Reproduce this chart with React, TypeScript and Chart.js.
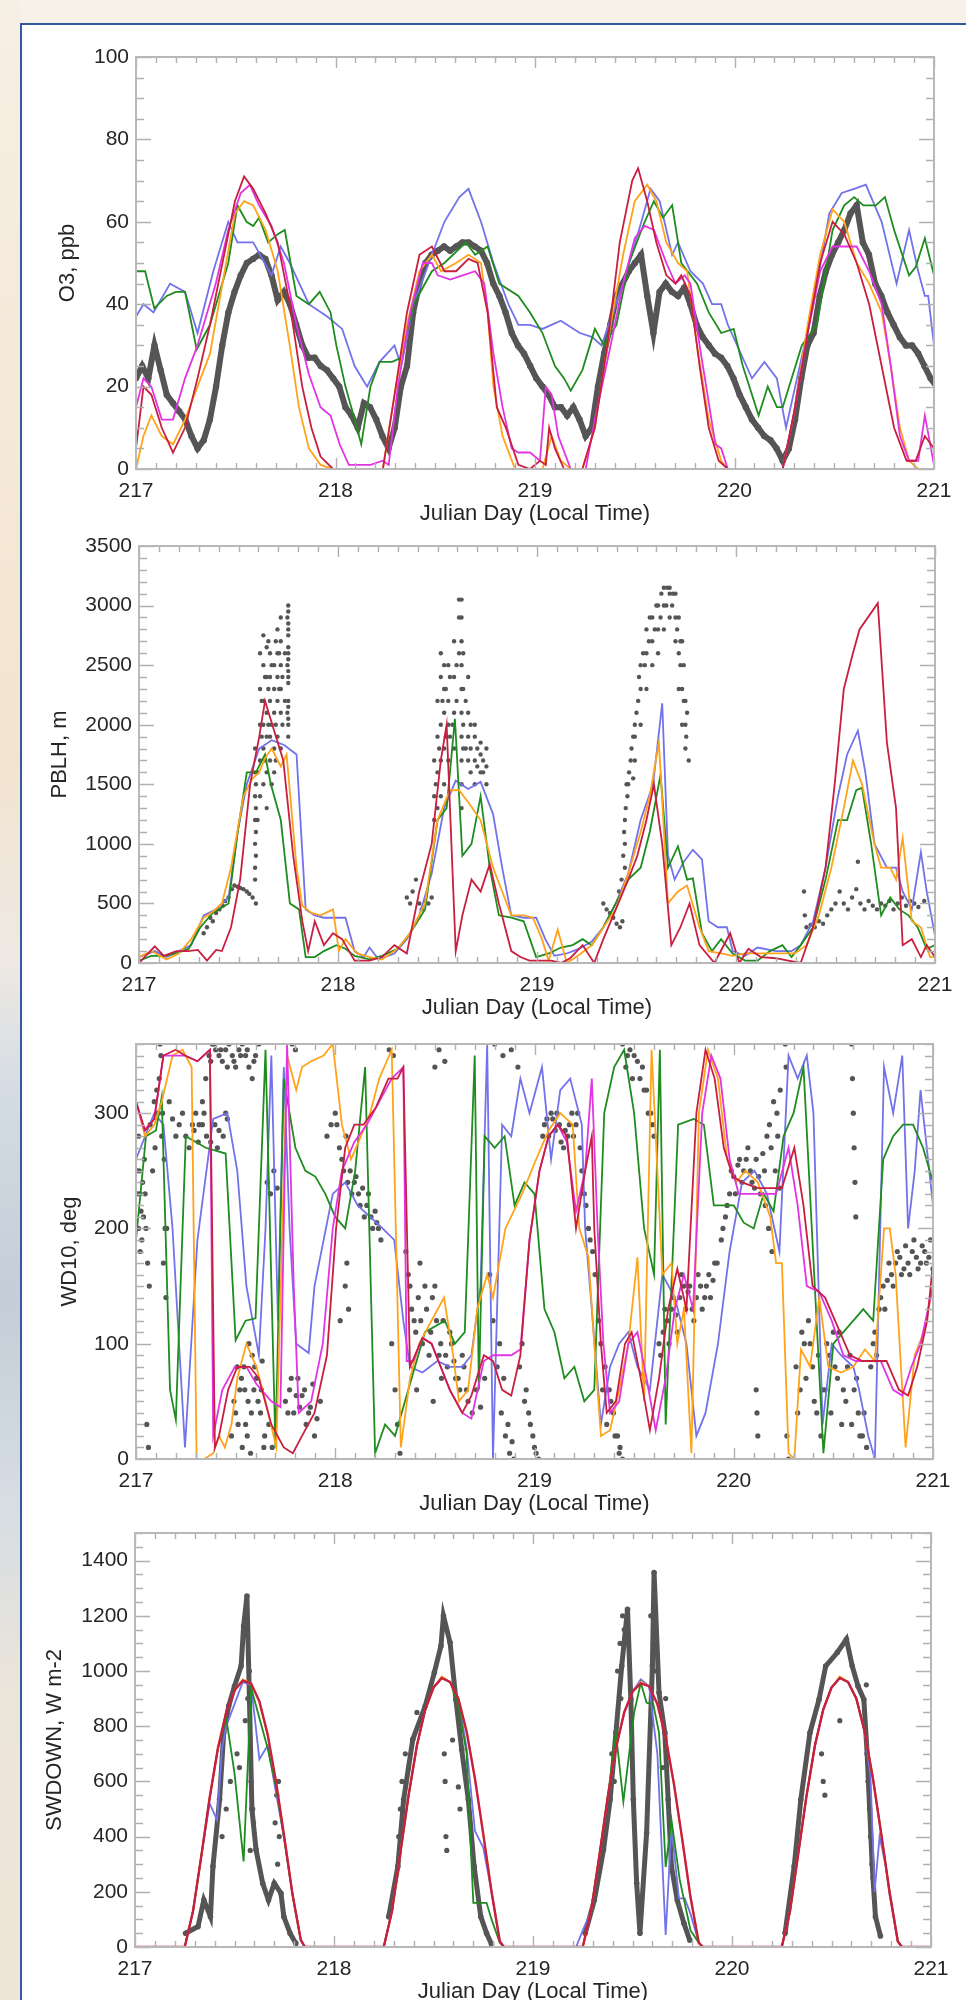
import React, { useEffect, useRef } from "react";
import { Chart, registerables } from "chart.js";
Chart.register(...registerables);

// ---------- common ----------
const DAY0 = 217;
const X_TICKS = [217, 218, 219, 220, 221];
const X_TITLE = "Julian Day (Local Time)";
const C_OBS = "#555555";
const C_BLUE = "#7272ea";
const C_GREEN = "#1e8c1e";
const C_ORANGE = "#ffa31a";
const C_MAGENTA = "#e234e2";
const C_CRIMSON = "#c81e40";

// ---------- Panel 1: O3 (ppb) ----------  pairs are [hours since day 217, value]
const O3_OBS_STEP_H = 0.741;
const O3_OBS = [22,25,22,30,24,18,16,14,12,8,5,7,12,20,30,38,43,47,50,51,52,51,47,41,43,40,35,30,27,27,25,24,22,20,15,13,10,16,15,12,8,5,10,20,25,38,45,50,52,53,54,53,54,55,55,54,53,50,45,42,38,33,30,28,25,22,20,18,15,15,13,15,12,8,10,20,28,35,42,45,48,50,52,42,33,43,45,43,42,44,40,35,32,30,28,27,25,22,18,15,12,10,8,7,5,2,5,12,22,30,33,42,48,52,55,58,62,64,55,52,45,42,38,35,32,30,30,28,25,22,20];
const O3_BLUE = [[0,37],[0.9,40],[2.1,38],[4.1,45],[5.9,43],[7.4,33],[9.3,48],[11.1,60],[12.2,55],[14.1,55],[16.3,47],[17.4,54],[18.5,50],[20.8,40],[23,37],[24.8,34],[26.3,25],[27.8,20],[29.3,26],[31.1,30],[31.9,25],[33.4,40],[35.6,52],[37.1,60],[38.9,66],[40,68],[41.5,60],[43,50],[44.8,40],[46,35],[47.4,35],[48.9,34],[51.1,36],[53.4,33],[54.9,32],[56,30],[58.6,45],[60.8,60],[61.9,68],[63,65],[64.5,52],[65.2,55],[66.7,48],[68.2,45],[69.3,40],[70.4,40],[71.2,35],[74.1,22],[75.6,26],[77.1,22],[78.2,10],[79.3,20],[81.5,40],[83.4,62],[84.9,67],[86.4,68],[87.8,69],[89.7,60],[91.5,45],[93,58],[94.1,48],[94.9,42],[95.3,42],[96,30]];
const O3_GREEN = [[0,48],[1.1,48],[2.2,39],[3.7,42],[4.8,43],[5.9,43],[7.3,29],[8.9,35],[11.1,50],[12.2,64],[13.3,60],[14.1,59],[14.8,61],[15.9,55],[17.05,57],[17.9,58],[19.3,42],[20.8,40],[22.1,43],[23.4,38],[24.1,30],[25.2,20],[26.3,12],[27.1,6],[28.2,20],[29.3,26],[30.8,26],[31.9,27],[33.4,40],[35.6,48],[37.1,50],[39.7,55],[40.8,52],[42.3,54],[43.7,45],[46,42],[47.4,38],[48.9,33],[50.4,25],[51.5,22],[52.3,19],[53.7,24],[55.2,34],[56.3,30],[57.8,35],[59.3,50],[61.2,60],[62.3,65],[63.4,61],[64.5,64],[65.6,50],[67.5,45],[68.9,38],[70.4,33],[71.9,34],[73,25],[74.9,13],[76,20],[77.1,15],[77.8,15],[80.1,30],[81.9,35],[83.8,58],[85.2,64],[86.4,66],[87.5,64],[89,64],[90.1,66],[91.2,58],[93,47],[93.8,49],[94.9,56],[96,47]];
const O3_ORANGE = [[0,0],[0.9,8],[1.85,13],[3.1,8],[4.45,6],[5.9,12],[7.4,20],[8.9,28],[10.4,45],[11.9,62],[13,65],[14.1,64],[15.6,58],[17.05,48],[18.5,30],[19.6,15],[20.8,5],[22.2,1],[23.7,0],[29.7,0],[31.1,18],[32.6,35],[34.1,48],[35.6,52],[36.7,48],[38.5,50],[40,52],[41.5,50],[42.3,38],[43,20],[44.1,8],[45.6,0],[48.9,0],[50,8],[51.1,2],[52.3,0],[53.7,0],[55.2,10],[57.1,35],[58.6,52],[60,65],[61.5,69],[62.6,65],[63.8,55],[65.2,50],[66.3,48],[67.5,30],[68.9,12],[70.4,2],[71.2,0],[77.8,0],[79.3,15],[80.8,35],[82.3,52],[83.8,63],[85.2,60],[86.7,50],[88.2,45],[89.7,38],[90.8,25],[91.9,10],[93,2],[94.1,0],[96,0]];
const O3_MAGENTA = [[0,15],[0.9,22],[1.85,20],[3.1,12],[4.45,12],[5.9,22],[7.4,30],[9.6,45],[11.1,58],[12.6,67],[13.7,69],[14.8,64],[16.3,59],[17.8,50],[19.3,35],[20.8,23],[22.2,15],[23.4,13],[24.5,6],[25.6,1],[28.2,1],[29.7,2],[30.4,1],[31.5,20],[33,38],[34.5,50],[35.6,50],[36.3,47],[37.8,46],[39.3,47],[40.8,48],[41.9,45],[43,28],[44.1,15],[45.2,5],[46,4],[47.4,4],[48.6,2],[49.3,20],[50,18],[50.8,8],[52.3,0],[54.1,0],[55.2,12],[57.1,30],[58.6,45],[60,56],[61.2,59],[62.3,58],[63.8,50],[64.9,45],[66,47],[66.7,45],[67.8,30],[68.6,20],[69.7,6],[70.4,5],[71.2,0],[77.8,0],[79.3,15],[80.8,33],[82.3,48],[83.8,54],[86.7,54],[88.2,48],[89.7,40],[90.8,25],[91.9,8],[93,2],[94.1,2],[94.9,13],[96,1]];
const O3_CRIMSON = [[0,5],[0.9,20],[1.85,18],[3.1,10],[4.45,4],[5.9,10],[7.4,22],[8.9,35],[10.4,50],[11.9,65],[13,71],[14.1,68],[15.6,62],[17.05,55],[18.5,40],[20,20],[21.1,10],[22.2,3],[23.7,0],[29.7,0],[31.1,18],[32.6,38],[34.1,52],[35.6,54],[37.1,48],[38.5,48],[40,51],[41.1,50],[42.3,38],[43.4,15],[44.5,10],[46,1],[47.4,0],[48.6,2],[49.3,1],[49.7,10],[50.4,5],[51.5,0],[53.7,0],[55.2,10],[56.7,30],[58.2,55],[59.7,70],[60.4,73],[61.5,65],[62.6,55],[63.8,47],[64.9,45],[65.6,47],[66.7,42],[67.8,25],[68.9,10],[70.1,2],[71.2,0],[77.8,0],[79.3,15],[80.8,33],[82.3,50],[83.8,60],[85.2,57],[86.7,50],[88.2,40],[89.7,25],[91.2,10],[92.7,2],[93.8,2],[94.9,8],[96,5]];

// ---------- Panel 2: PBLH (m) ----------
const PBLH_OBS = [[7.8,250],[8.2,300],[8.6,380],[8.9,350],[9.3,420],[9.7,450],[10.1,480],[10.4,520],[10.8,550],[11.2,620],[11.5,650],[11.9,640],[12.2,630],[12.6,620],[13,600],[13.3,580],[13.7,550],[14.1,500],
[14.1,900],[14.1,1100],[14.1,1300],[14.1,1500],[14.6,1400],[14.6,1700],[14.6,2000],[14.6,2300],[14.6,2600],[15,1500],[15,1800],[15,2000],[15,2200],[15,2500],[15,2750],[15.4,1300],[15.4,1600],[15.4,1900],[15.4,2100],[15.4,2400],[15.4,2650],[15.8,1700],[15.8,1900],[15.8,2200],[15.8,2400],[15.8,2600],[16.3,1600],[16.3,1800],[16.3,2100],[16.3,2300],[16.3,2500],[16.7,1900],[16.7,2200],[16.7,2400],[16.7,2600],[16.7,2800],[17.1,1800],[17.1,2100],[17.1,2300],[17.1,2500],[17.1,2700],[17.1,2900],[18,2000],[18,2200],[18,2400],[18,2600],[18,2800],[18,3000],
[32.3,550],[32.7,500],[33,600],[33.4,700],[33.8,500],[34.1,450],[34.5,520],[34.9,500],[35.3,550],[35.6,1200],[35.6,1400],[35.6,1700],[36,1300],[36,1600],[36,1900],[36,2200],[36.4,1400],[36.4,1700],[36.4,2000],[36.4,2400],[36.4,2600],[36.8,1500],[36.8,1800],[36.8,2100],[36.8,2300],[36.8,2500],[37.3,1700],[37.3,2000],[37.3,2200],[37.3,2500],[38,1800],[38,2100],[38,2400],[38,2700],[38.6,2900],[38.6,3050],[38.6,2600],[39.1,1800],[39.1,2000],[39.1,2300],[39.1,2600],[39.7,1700],[39.7,1900],[39.7,2100],[39.7,2400],[40.5,1500],[40.5,1700],[40.5,1900],[40.5,2000],[41.2,1600],[41.2,1750],[41.2,1850],[41.9,1500],[41.9,1650],[41.9,1800],
[56,500],[56.4,450],[56.8,420],[57.2,380],[57.6,330],[58,300],[58.3,350],[58.6,800],[58.6,1000],[58.6,1200],[58.9,1400],[59,1500],[59.3,1700],[59.6,1550],[59.8,1700],[59.8,1900],[59.8,2000],[60.5,2000],[60.5,2300],[60.5,2500],[61.2,2300],[61.2,2600],[61.2,2800],[61.9,2500],[61.9,2700],[61.9,2900],[62.6,2600],[62.6,2800],[62.6,3000],[63.3,2800],[63.3,3000],[63.3,3150],[64,2900],[64,3100],[64,3150],[64.7,2700],[64.7,2900],[64.7,3100],[65.1,2300],[65.1,2600],[65.1,2900],[65.5,2000],[65.5,2300],[65.5,2700],[65.9,1800],[65.9,2000],[65.9,2200],[66.3,1700],
[80.2,600],[80.3,400],[80.5,300],[81,320],[81.5,300],[82,350],[82.5,330],[83,400],[83.5,450],[84,500],[84.5,600],[85,500],[85.5,450],[86,550],[86.5,620],[86.7,850],[87,500],[87.5,450],[88,520],[88.5,480],[89,450],[89.5,500],[90,480],[90.5,520],[91,450],[91.5,500],[92,550],[92.5,480],[93,520],[93.5,500],[94,470],[94.7,520]];
const PBLH_OBS_EXTRA = [[14,700],[14,800],[14,1000],[14,1200],[14,1400],[14,1600],[14,1800],[14.3,1200],[14.3,1600],[14.8,1900],[14.8,2200],[15.2,1700],[15.2,2400],[15.6,2000],[15.6,2300],[15.6,2700],[16,1500],[16,2000],[16,2500],[16.5,1700],[16.5,2000],[16.5,2700],[16.9,2300],[16.9,2600],[17.3,2000],[17.3,2400],[17.6,2200],[17.6,2600],[17.9,2100],[17.9,2500],[17.9,2900],[18,1900],[18,2050],[18,2150],[18,2350],[18,2450],[18,2550],[18,2650],[18,2750],[18,2850],[18,2950],
[35.8,1500],[36.2,1800],[36.6,2200],[37,1900],[37,2300],[37.5,1900],[37.5,2400],[37.8,2000],[38.3,2200],[38.3,2500],[38.9,1300],[38.9,1500],[38.9,1700],[38.9,1900],[38.9,2100],[38.9,2300],[38.9,2500],[38.9,2700],[38.9,2900],[38.9,3050],[39.4,1800],[39.4,2200],[40,1600],[40,1800],[40,2000],[40.8,1650],[40.8,1800],[41.5,1600],[41.5,1700],
[57.9,600],[58.2,700],[58.4,900],[58.5,1100],[58.7,1300],[58.8,1500],[59.1,1600],[59.4,1800],[59.6,1900],[60,2100],[60.2,2200],[60.3,2400],[60.8,2600],[61,2500],[61.5,2700],[61.6,2900],[62.2,2800],[62.4,3000],[62.9,2900],[63,3100],[63.6,3000],[63.7,3150],[64.3,3000],[64.4,3100],[64.9,2800],[65.3,2500],[65.3,2700],[65.7,2200],[65.7,2500],[66,1900],[66.1,2100]];
const PBLH_BLUE = [[0,50],[1.9,100],[3.3,50],[4.8,100],[6.3,150],[7.8,400],[9.3,450],[10.8,550],[11.9,1100],[13,1500],[14.5,1800],[16,1870],[17.5,1830],[19,1750],[20.1,450],[21.2,400],[22.3,380],[23.4,380],[24.9,380],[26,100],[27.1,50],[27.8,130],[28.9,30],[30.8,80],[32.3,200],[33.8,400],[35.3,750],[36.8,1300],[38.2,1530],[39.7,1460],[41.2,1520],[42.7,1250],[43.8,800],[44.9,400],[46.4,380],[47.9,380],[49,200],[50.1,60],[51.6,80],[53.1,120],[54.6,180],[56,300],[57.5,500],[59,750],[60.5,1200],[62,1500],[63.1,2180],[63.8,900],[64.6,700],[65.7,850],[66.8,950],[67.9,870],[68.7,350],[69.8,300],[70.9,300],[71.6,100],[73.1,60],[74.6,130],[76.8,100],[78.7,100],[79.8,150],[81.3,350],[82.8,800],[84.3,1400],[85.4,1750],[86.7,1950],[87.6,1600],[88.7,1000],[90.2,800],[91.3,800],[92.1,600],[93.2,450],[94.3,930],[95,600],[96,230]];
const PBLH_GREEN = [[0,20],[1.5,60],[3,60],[4.5,80],[6,120],[7.4,300],[8.9,420],[10.8,500],[11.9,1100],[13,1600],[14.1,1600],[15.2,1750],[15.9,1500],[17.1,1200],[18.2,500],[19.3,450],[20.1,50],[21.2,50],[22.3,100],[23.8,150],[24.9,120],[26,60],[27.8,30],[29.3,60],[31.2,120],[32.7,250],[34.5,450],[36,1200],[37.1,1300],[38.1,2050],[39,900],[40.1,1000],[41.2,1400],[42.3,800],[43.4,400],[44.9,380],[46.4,350],[47.9,50],[49.4,80],[50.9,130],[52.3,150],[53.5,200],[54.6,150],[56,300],[57.5,500],[59,700],[60.5,800],[61.6,1100],[62.9,1580],[63.8,800],[65,980],[66.1,700],[66.8,710],[67.9,250],[69.1,100],[70.2,200],[71.6,80],[73.1,20],[74.6,20],[76.1,100],[77.6,150],[78.7,50],[79.8,150],[81.3,300],[82.8,700],[84.3,1200],[85.4,1200],[86.5,1450],[87.2,1470],[88.3,1000],[89.5,400],[90.6,550],[91.7,450],[92.8,400],[93.9,300],[95,120],[96,150]];
const PBLH_ORANGE = [[0,50],[1.5,100],[3.3,30],[4.8,80],[6.3,200],[7.8,380],[8.9,430],[10,500],[11.1,800],[12.6,1400],[13.7,1550],[14.5,1600],[15.2,1720],[16,1800],[17.1,1650],[17.8,1750],[19,800],[19.7,480],[20.8,420],[21.9,400],[23.4,450],[24.1,100],[24.9,200],[26.3,80],[27.8,50],[29.3,30],[31.2,120],[32.7,250],[34.5,500],[36,1200],[37.5,1450],[38.6,1450],[39.7,1350],[41.2,1200],[42.7,800],[43.8,600],[44.9,400],[46.4,400],[47.5,380],[48.6,200],[49.4,20],[50.5,280],[51.6,0],[53.1,70],[54.6,150],[56,300],[57.5,450],[59,750],[60.5,1100],[61.6,1400],[62.7,1850],[63.8,500],[65,600],[66.1,650],[67.6,300],[68.7,100],[70.2,80],[71.6,60],[73.1,80],[74.6,80],[76.8,80],[79.1,80],[80.5,150],[82,400],[83.5,800],[85,1300],[86.1,1700],[87.2,1500],[88.7,1000],[89.5,800],[90.6,800],[91.3,700],[92.1,1050],[93.2,350],[94.3,300],[95.4,50],[96,50]];
const PBLH_CRIMSON = [[0,0],[1.9,140],[3,60],[4.5,100],[5.9,100],[7.1,110],[8.2,20],[9.3,110],[10,100],[11.1,300],[12.2,700],[13.4,1500],[14.5,1900],[15.2,2200],[16.3,1950],[17.4,1700],[18.6,900],[19.7,350],[20.4,100],[21.2,350],[22.3,150],[23.4,250],[24.5,200],[26,20],[27.8,20],[29.3,50],[30.8,150],[32.3,80],[33.8,600],[35.3,1000],[36.4,1700],[37.1,2000],[38.2,100],[39,400],[40.1,700],[41.2,600],[42.3,830],[43.4,500],[44.9,100],[46,50],[47.1,20],[49.7,20],[50.9,0],[52,40],[53.5,150],[54.9,0],[56,200],[57.5,450],[59,700],[60.1,900],[61.2,1200],[62.1,1500],[63.1,1000],[64.2,150],[65.3,300],[66.4,500],[67.6,150],[69.4,0],[71.3,250],[72.4,0],[73.5,120],[75,50],[76.8,40],[78.3,20],[79.8,0],[81.3,300],[82.8,800],[83.9,1500],[85,2300],[86.1,2600],[86.9,2800],[89.1,3020],[90.2,1850],[91.3,1300],[92.1,150],[93.2,200],[94.3,50],[95,150],[96,50]];

// ---------- Panel 3: WD10 (deg) ----------
const WD_OBS = [[0.2,230],[0.3,200],[0.4,250],[0.5,180],[0.6,215],[0.8,240],[1,260],[1.2,200],[1.4,170],[1.6,150],[1.3,30],[1.5,10],[2,250],[2.3,270],[2.6,300],[2.8,330],[3,350],[3.2,300],[3.4,260],[3.5,200],[3.3,170],[3.6,140],[4,310],[4.4,295],[4.8,280],[5.2,290],[5.6,300],[6,280],[6.4,270],[6.8,290],[7.2,300],[7.6,290],[8,310],[8.4,330],[8.8,350],[9.2,360],[9.6,355],[10,350],[10.4,345],[10.8,355],[11.2,360],[11.6,350],[12,340],[12.4,355],[12.8,360],[13.2,350],[13.6,340],[14,330],[14.4,350],[14.8,360],
[11.5,20],[12,40],[12.5,60],[13,80],[13.5,50],[13.2,30],[14,90],[14.5,70],[15,40],[15.5,20],[12.8,10],[13.8,5],[14.2,60],[12.2,80],[15.2,85],[15.8,240],[16.2,230],[16.6,250],[17,235],
[18,50],[18.5,60],[19,40],[19.5,70],[20,55],[20.5,30],[21,45],[21.5,20],[18.8,360],[19.2,355],
[23,280],[23.5,290],[24,300],[24.5,270],[25,250],[25.5,240],[26,230],[26.5,245],[27,220],[27.5,210],[28,230],[28.5,200],[29,205],[29.5,190],[25.2,150],[25.4,170],[25.6,130],[24.6,120],
[30.5,355],[31,350],[30.8,100],[31.2,60],[31.5,30],[31.8,5],
[32.5,180],[33,150],[33.5,120],[34,140],[34.5,100],[35,130],[35.5,110],[36,150],[36.5,90],[37,120],[37.5,80],[38,100],[33.8,60],[35.8,50],[34.2,170],[36.8,70],[36,340],[36.5,355],[37.2,345],
[38.5,70],[39,60],[39.5,80],[40,50],[40.5,40],[41,60],[41.5,45],[42,70],
[42.6,160],[43,120],[43.5,80],[44,40],[44.5,20],[45,5],[45.5,0],[43.2,360],[44.2,350],[45.2,355],[46,340],
[46.5,100],[47,60],[47.5,30],[48,10],[48.5,0],
[49,280],[49.5,295],[50,300],[50.5,285],[51,290],[51.5,270],[52,280],[52.5,300],[53,290],[53.5,270],[54,230],[54.5,200],[55,180],[55.3,160],
[56,100],[56.5,80],[57,60],[57.5,40],[58,20],[58.3,10],[58.6,0],
[58.6,360],[59.2,350],[59.8,330],[60.4,345],[61,340],[61.5,320],[62,300],[62.4,280],
[63,100],[63.5,110],[64,120],[64.5,130],[65,125],[65.5,140],[66,150],[66.5,145],[67,130],[67.5,140],[68,150],[68.5,140],[69,160],[69.5,155],[70,170],
[70.5,190],[71,210],[71.5,230],[72,245],[72.5,255],[73,240],[73.5,260],[74,250],[74.5,235],[75,245],[75.5,265],[76,280],[76.5,270],[77,250],[77.5,235],
[75.8,220],[76.2,200],[76.6,180],[77.2,300],[77.6,320],[74.7,60],[74.8,40],[74.9,20],
[78.2,360],[78.3,340],[78.4,20],[78.6,0],
[79.5,80],[80,60],[80.5,100],[81,120],[81.5,80],[82,40],[82.5,20],[83,60],[83.5,90],[84,110],[84.5,70],[85,30],[85.5,50],[86,90],[86.5,60],[87,40],[87.5,20],[88,10],
[86.2,360],[86.3,330],[86.4,300],[86.5,270],[86.6,240],[86.7,210],
[88.5,80],[89,110],[89.5,130],[90,150],[90.5,155],[91,160],[91.5,170],[92,175],[92.5,165],[93,170],[93.5,180],[94,175],[94.5,170],[95,180],[95.5,175],[96,165]];
const WD_OBS_EXTRA = [[0.1,250],[0.3,280],[0.5,230],[0.7,190],[0.9,210],[1.1,230],[1.7,290],[2.2,310],[2.5,320],[2.9,360],[3.1,280],[3.7,200],
[7,285],[7.5,275],[8,290],[8.5,280],[9,275],[9.5,290],[10,285],[10.5,280],[11,295],[8.2,300],[9.8,270],[10.8,300],
[9,345],[9.4,360],[10.2,355],[11,340],[11.8,345],[12.6,350],[13.4,355],[14.2,345],
[11.8,50],[12.3,30],[12.7,70],[13.1,60],[13.4,20],[13.9,40],[14.3,80],[14.7,50],[15.1,60],[15.4,10],[16,30],[16.4,10],[13.6,100],
[18.3,40],[18.7,70],[19.3,55],[19.7,45],[20.3,60],[20.8,40],[21.3,65],[21.8,35],[22.2,50],
[24.2,290],[24.8,260],[25.3,280],[25.8,250],[26.3,240],[26.8,230],[27.3,235],[27.8,220],[28.3,210],[28.8,215],[29.2,200],
[32.8,160],[33.2,130],[33.7,110],[34.3,120],[34.8,150],[35.3,90],[35.7,140],[36.2,120],[36.7,100],[37.3,90],[37.8,110],[38.3,85],[38.8,70],[39.3,90],[39.8,60],
[43.8,100],[44.3,70],[44.8,30],[45.3,15],[46.2,80],[46.8,50],[47.3,40],[47.8,20],[48.2,5],
[49.2,290],[49.7,280],[50.2,295],[50.7,300],[51.2,275],[51.7,285],[52.2,290],[52.7,280],[53.2,300],[53.7,250],[54.2,220],[54.7,190],
[55.7,120],[56.2,60],[56.7,30],[57.2,50],[57.7,20],[58.2,5],
[59,340],[59.5,355],[60,350],[60.7,330],[61.2,320],[61.7,300],[62.2,290],
[63.2,90],[63.7,130],[64.2,100],[64.7,140],[65.2,110],[65.7,160],[66.2,130],[66.7,150],[67.2,120],[67.7,160],[68.2,130],[68.7,150],[69.2,140],[69.7,170],
[70.7,200],[71.2,220],[71.7,250],[72.2,230],[72.7,260],[73.2,250],[73.7,270],[74.2,240],[74.7,260],[75.2,230],[75.7,250],[76.3,290],[76.8,310],[77.3,280],
[79.7,40],[80.2,110],[80.7,70],[81.2,100],[81.7,50],[82.2,90],[82.7,60],[83.2,100],[83.7,40],[84.2,80],[84.7,110],[85.2,60],[85.7,80],[86.2,30],[86.8,70],[87.2,20],[87.7,40],
[88.8,100],[89.2,90],[89.7,140],[90.2,130],[90.7,170],[91.2,150],[91.7,180],[92.2,160],[92.7,185],[93.2,160],[93.7,190],[94.2,165],[94.7,185],[95.2,170],[95.7,190]];
const WD_BLUE = [[0,260],[1.1,280],[2.2,300],[3.3,290],[4.4,200],[5.9,10],[7.4,190],[9.3,295],[11,300],[12.2,250],[13.3,150],[14.8,90],[15.6,200],[16.3,350],[17.1,120],[17.8,340],[18.5,200],[19.3,100],[20.8,92],[21.5,150],[23.7,230],[25.2,240],[26.7,220],[28.2,210],[29.7,200],[31.1,190],[32.2,120],[33,80],[34.5,75],[36.3,85],[37.8,80],[39.3,80],[40.4,90],[41.5,150],[42.3,360],[43,0],[44.1,290],[45.2,280],[46.3,330],[47.4,300],[48.9,340],[50,260],[51.1,320],[52.3,330],[53,310],[53.7,290],[54.1,200],[54.9,130],[56,30],[57.1,80],[58.2,100],[59.3,110],[60.4,80],[61.9,60],[63.4,160],[64.9,140],[66.3,100],[67.5,20],[68.6,40],[70.1,100],[71.5,180],[73,240],[74.5,250],[76,230],[77.5,180],[78.6,350],[79.7,330],[80.8,350],[81.6,300],[82.7,30],[83.8,100],[84.9,90],[86.4,80],[87.1,60],[88.2,20],[89,0],[90.1,340],[91.2,300],[92.3,350],[93,200],[93.8,250],[94.5,320],[96,220]];
const WD_GREEN = [[0,190],[1.2,280],[2.4,285],[3.1,314],[4.1,60],[4.8,34],[6,280],[8.4,270],[10.8,265],[12,103],[13.2,120],[14.4,122],[15.6,355],[16.8,10],[17.8,330],[19.2,270],[20.4,250],[21.6,245],[22.8,230],[24,210],[25.2,200],[26.4,250],[27.6,340],[28.8,5],[30,30],[31.2,20],[32.4,50],[33.6,80],[34.8,110],[37.2,120],[38.4,100],[39.6,110],[40.8,350],[41.3,60],[42,280],[43.2,270],[44.4,280],[45.6,220],[46.8,240],[48,230],[49.2,130],[50.4,110],[51.6,70],[52.8,80],[54,50],[55.2,60],[56.4,300],[57.6,340],[58.8,355],[60,300],[61.2,200],[62.4,160],[63.1,355],[63.8,30],[65.3,290],[67.2,295],[68.4,290],[69.6,220],[72,220],[73.2,205],[74.4,200],[75.6,230],[76.8,215],[78,280],[79.2,300],[80.4,340],[82.8,5],[84,100],[85.2,110],[86.4,120],[87.6,130],[88.8,120],[90,260],[91.2,280],[92.4,290],[93.6,290],[94.8,270],[96,240]];
const WD_ORANGE = [[0,310],[1.1,280],[2.2,290],[3.1,310],[4.4,350],[5.6,355],[6.7,340],[7.3,0],[8.2,0],[9.3,5],[10,20],[10.7,10],[11.5,30],[12.2,70],[13.3,100],[14.5,80],[15.6,50],[16.9,10],[18.2,350],[19.3,320],[20,340],[21.1,345],[22.6,350],[23.7,360],[24.8,290],[25.9,260],[27.1,280],[28.2,300],[29.3,330],[30.8,355],[31.9,10],[33,70],[34.1,100],[35.6,120],[37.1,140],[38.2,90],[38.9,50],[40,60],[41.1,130],[42.3,160],[43,140],[44.5,200],[46.5,230],[48.2,260],[49.7,285],[51.1,300],[52.6,290],[53.4,200],[54.5,175],[55.2,100],[56,20],[57.1,25],[58.2,60],[59.3,100],[60.4,175],[61.2,50],[62.1,355],[63.4,160],[64.5,170],[65.2,100],[66,130],[66.9,5],[67.8,300],[68.9,355],[70.1,330],[71.2,260],[72.3,240],[73.4,250],[74.9,240],[76.4,210],[77.1,170],[77.8,170],[78.6,5],[79.3,0],[80.1,95],[81.2,80],[82.3,140],[83.4,80],[84.9,75],[86.4,80],[87.8,95],[89,85],[90.1,200],[90.8,200],[91.5,160],[92.7,10],[93.8,90],[94.9,110],[96,150]];
const WD_MAGENTA = [[0,310],[1,285],[2.2,295],[3.3,350],[5.9,350],[7.4,345],[8.9,355],[9.3,20],[10.4,60],[11.9,80],[13.3,80],[14.5,65],[16.3,50],[17.4,45],[18.2,360],[19,150],[19.6,40],[21.1,50],[22.5,100],[23.7,200],[24.8,250],[26.3,275],[27.8,290],[29.3,310],[30.8,330],[32.2,340],[32.6,85],[33.4,85],[34.5,105],[35.6,100],[36.7,80],[37.8,60],[39.3,40],[40.4,35],[41.9,85],[43,90],[44.1,90],[45.2,90],[46.3,95],[47.4,190],[48.6,250],[49.7,280],[50.8,290],[51.9,275],[53,215],[54.1,250],[54.9,330],[55.6,200],[56.3,100],[57.1,40],[58.2,50],[59.3,100],[60.4,110],[61.5,70],[62.6,25],[63.8,70],[64.9,130],[66,160],[67.1,130],[68.2,300],[69.3,350],[70.4,330],[71.5,260],[72.6,230],[74.5,230],[75.6,230],[77.1,230],[78.6,270],[79.7,220],[80.8,150],[82.3,145],[83.8,120],[85.2,90],[86.7,85],[88.2,85],[89.7,85],[91.2,60],[92.3,55],[93.4,80],[94.5,100],[96,150]];
const WD_CRIMSON = [[0,310],[1.1,285],[2.2,295],[3.3,350],[4.8,355],[5.9,350],[7.4,345],[8.9,355],[9.5,10],[10,20],[11.1,60],[12.2,80],[13.7,80],[14.8,70],[16.3,30],[17.8,10],[18.9,5],[20,20],[21.5,40],[23,90],[24.1,200],[25.2,270],[26.3,290],[27.4,290],[28.9,305],[30.4,330],[31.5,330],[32.2,340],[33,80],[34.5,105],[35.6,100],[36.7,80],[37.8,60],[39.3,40],[40.4,55],[41.9,90],[43,85],[44.1,60],[45.2,55],[46.3,90],[47.4,190],[48.6,250],[49.7,280],[50.8,290],[51.9,280],[53,200],[54.1,250],[54.9,280],[55.2,200],[56,100],[56.7,40],[57.8,50],[58.9,100],[59.7,110],[60.8,70],[61.9,25],[63,70],[64.1,130],[65.2,165],[66.3,130],[67.5,300],[68.6,355],[69.7,330],[70.8,270],[71.9,245],[73,240],[74.9,235],[77.8,235],[79.3,270],[80.4,220],[81.5,150],[83,140],[84.5,115],[86,90],[87.5,85],[90.4,85],[91.9,60],[93,55],[94.1,80],[95.3,120],[96,170]];

// ---------- Panel 4: SWDOWN (W m-2) ----------
const SW_OBS_BAND = [[6.1,50],[7.6,74],[8.3,170],[9.1,110],[9.4,292],[10.2,534],[10.7,776],[11.3,873],[12,945],[12.8,1018],[13.1,1163],[13.5,1272],[13.8,900],[14.1,500],[14.6,352],[15.4,231],[16.1,170],[16.8,231],[17.6,195],[17.95,110],[18.7,50],[19.4,13]];
const SW_OBS_BAND2 = [[30.6,110],[31.7,292],[32.4,534],[33.5,752],[35,873],[36.1,994],[36.9,1091],[37.2,1200],[38,1103],[38.7,897],[39.4,716],[40.2,534],[40.9,292],[41.7,110],[42.4,50],[43,10]];
const SW_OBS_BAND3 = [[54.3,50],[55.4,170],[56.5,352],[57.3,534],[58,776],[58.7,1018],[59.4,1224],[59.8,897],[60.1,534],[60.5,231],[60.9,50],[61.7,413],[62.4,1018],[62.6,1357],[63.2,921],[63.9,776],[64.3,534],[64.7,292],[65.4,170],[66.2,86],[66.9,25]];
const SW_OBS_BAND4 = [[78.4,50],[79.5,292],[80.3,534],[81.4,776],[82.5,897],[83.3,1018],[84.7,1067],[85.8,1115],[86.5,1018],[87.2,945],[87.9,897],[88.3,700],[88.6,500],[88.9,300],[89.3,110],[89.9,40]];
const SW_OBS_SCATTER = [[10.5,400],[11,500],[11.5,600],[12.3,700],[12.6,650],[13.3,820],[13.6,900],[13.8,1000],[14,600],[14.2,500],[14.3,450],[13.9,350],[16.9,450],[17.1,550],[17.3,600],[17.4,400],[17.2,300],
[31.8,400],[32,500],[32.2,600],[32.6,700],[33,650],[34,850],[37.3,700],[37.4,600],[37.5,400],[37.6,350],[38.3,750],[39,580],[39.2,500],
[58.2,1000],[58.5,1100],[58.8,1200],[59,1150],[58.6,900],[57.8,600],[57.5,700],[62.2,1200],[62.5,1100],[62.8,1000],[63.5,850],[63.6,650],[64,900],
[82.8,700],[83,600],[83.2,550],[88,800],[88.2,950],[88.4,600],[88.7,400],[89,250],[85,820]];
const SW_BLUE = [[0,0],[6,0],[7,130],[8,330],[9,520],[9.9,460],[10.5,720],[11,800],[12,880],[13,960],[14,950],[15,680],[16,730],[17,560],[18,390],[19,190],[20,25],[20.5,0],[30,0],[31,130],[32,340],[33,550],[34,730],[35,860],[36,940],[37,975],[38,960],[39,900],[40,720],[41,420],[42,360],[43,200],[44,20],[44.5,0],[53.2,0],[54,60],[55,130],[56,330],[57,540],[58,720],[59,850],[60,925],[61,970],[62,945],[63,700],[64,44],[64.7,437],[65.6,176],[66.3,176],[67,120],[68,15],[68.5,0],[78,0],[79,130],[80,340],[81,550],[82,730],[83,860],[84,940],[85,975],[86,960],[87,900],[88,780],[88.7,620],[89.2,200],[89.8,400],[90.5,300],[91,190],[92,20],[92.5,0],[96,0]];
const SW_GREEN = [[0,0],[6,0],[7,130],[8,330],[9,540],[10,720],[11,830],[12,630],[13.1,310],[14,940],[15,830],[16,720],[17,580],[18,390],[19,190],[20,25],[20.5,0],[30,0],[31,130],[32,340],[33,550],[34,730],[35,860],[36,940],[37,975],[38,960],[39,880],[40,700],[40.8,160],[42.4,160],[43,100],[44,15],[44.5,0],[54,0],[55,130],[56,330],[57,540],[58,776],[58.9,527],[60.2,849],[61,957],[61.7,885],[62.5,880],[63.2,776],[64,290],[64.7,460],[65.7,243],[67,60],[68,15],[68.5,0],[78,0],[79,130],[80,340],[81,550],[82,730],[83,860],[84,940],[85,975],[86,960],[87,900],[88,780],[89,610],[90,410],[91,200],[92,20],[92.5,0],[96,0]];
const SW_ORANGE = [[0,0],[6,0],[7,130],[8,330],[9,540],[10,720],[11,850],[12,930],[13,970],[14,955],[15,890],[16,770],[17,600],[18,400],[19,190],[20,25],[20.5,0],[30,0],[31,130],[32,340],[33,550],[34,730],[35,860],[36,940],[37,980],[38,960],[39,900],[40,780],[41,610],[42,410],[43,200],[44,20],[44.5,0],[54,0],[55,130],[56,330],[57,540],[58,720],[59,850],[60,925],[61,960],[62,945],[63,880],[64,760],[65,590],[66,390],[67,180],[68,15],[68.5,0],[78,0],[79,130],[80,340],[81,550],[82,730],[83,860],[84,940],[85,980],[86,960],[87,900],[88,780],[89,610],[90,410],[91,200],[92,20],[92.5,0],[96,0]];
const SW_CRIMSON = [[0,0],[6,0],[7,130],[8,330],[9,540],[10,720],[11,850],[12,930],[13,965],[14,955],[15,890],[16,770],[17,600],[18,400],[19,190],[20,25],[20.5,0],[30,0],[31,130],[32,340],[33,550],[34,730],[35,860],[36,940],[37,975],[38,960],[39,900],[40,780],[41,610],[42,410],[43,200],[44,20],[44.5,0],[54,0],[55,130],[56,330],[57,540],[58,720],[59,850],[60,925],[61,955],[62,945],[63,880],[64,760],[65,590],[66,390],[67,180],[68,15],[68.5,0],[78,0],[79,130],[80,340],[81,550],[82,730],[83,860],[84,940],[85,975],[86,960],[87,900],[88,780],[89,610],[90,410],[91,200],[92,20],[92.5,0],[96,0]];

// ---------- helpers ----------
type Pair = number[];
const toXY = (pairs: Pair[]) => pairs.map(([h, v]) => ({ x: DAY0 + h / 24, y: v }));
const stepXY = (vals: number[], stepH: number) => vals.map((v, i) => ({ x: DAY0 + (i * stepH) / 24, y: v }));

const lineDS = (color: string, pairs: Pair[]) => ({
  data: toXY(pairs),
  showLine: true,
  borderColor: color,
  borderWidth: 1.8,
  pointRadius: 0,
  fill: false,
  tension: 0,
});
const obsDots = (data: any[], r: number) => ({
  data,
  showLine: false,
  pointRadius: r,
  pointBackgroundColor: C_OBS,
  pointBorderWidth: 0,
  borderColor: C_OBS,
});
const obsBand = (data: any[], w: number, r: number) => ({
  data,
  showLine: true,
  borderColor: C_OBS,
  borderWidth: w,
  pointRadius: r,
  pointBackgroundColor: C_OBS,
  pointBorderWidth: 0,
  tension: 0,
});

const FONT = "'Liberation Sans', Arial, Helvetica, sans-serif";
const TXT = "#262626";

const idlFrame = {
  id: "idlFrame",
  afterDatasetsDraw(chart: any, _a: any, opts: any) {
    const { ctx, chartArea: a, scales } = chart;
    const xs = scales.x, ys = scales.y;
    ctx.save();
    ctx.strokeStyle = "#b0b0b0";
    ctx.lineWidth = 1.4;
    ctx.beginPath();
    for (let i = 0; i <= 40; i++) {
      const v = 217 + i / 10;
      const px = Math.round(xs.getPixelForValue(v)) + 0.5;
      const len = i % 10 === 0 ? 11 : 6;
      ctx.moveTo(px, a.bottom); ctx.lineTo(px, a.bottom - len);
      ctx.moveTo(px, a.top); ctx.lineTo(px, a.top + len);
    }
    const n = Math.round((opts.yMax - opts.yMin) / opts.yMinor);
    for (let i = 0; i <= n; i++) {
      const v = opts.yMin + i * opts.yMinor;
      const py = Math.round(ys.getPixelForValue(v)) + 0.5;
      const len = v % opts.yMajor === 0 ? 15 : 8;
      ctx.moveTo(a.left, py); ctx.lineTo(a.left + len, py);
      ctx.moveTo(a.right, py); ctx.lineTo(a.right - len, py);
    }
    ctx.stroke();
    ctx.lineWidth = 2;
    ctx.strokeStyle = "#b8b8b8";
    ctx.strokeRect(a.left, a.top, a.right - a.left, a.bottom - a.top);
    ctx.restore();
  },
};

type PanelProps = {
  L: number; R: number; T: number; B: number;
  yMin: number; yMax: number; yMajor: number; yMinor: number;
  yTitle: string; yTitleX: number; datasets: any[];
};

function Panel(p: PanelProps) {
  const ref = useRef<HTMLCanvasElement>(null);
  const PAD_T = 30, AX_H = 70, W = 966;
  const H = p.B - p.T + PAD_T + AX_H;
  useEffect(() => {
    const chart = new Chart(ref.current as HTMLCanvasElement, {
      type: "scatter",
      data: { datasets: p.datasets },
      plugins: [idlFrame],
      options: {
        animation: false,
        responsive: false,
        devicePixelRatio: 1,
        events: [],
        layout: { padding: { top: PAD_T, left: 0, right: W - p.R, bottom: 0 } },
        plugins: {
          legend: { display: false },
          tooltip: { enabled: false },
          idlFrame: { yMin: p.yMin, yMax: p.yMax, yMajor: p.yMajor, yMinor: p.yMinor },
        } as any,
        scales: {
          x: {
            type: "linear",
            min: 217,
            max: 221,
            afterFit: (s: any) => { s.height = AX_H; },
            afterBuildTicks: (s: any) => { s.ticks = X_TICKS.map((v) => ({ value: v })); },
            grid: { display: false, drawTicks: false },
            border: { display: false },
            ticks: {
              autoSkip: false,
              maxRotation: 0,
              padding: 10,
              color: TXT,
              font: { family: FONT, size: 21 },
              callback: (v: any) => String(v),
            },
            title: {
              display: true,
              text: X_TITLE,
              color: TXT,
              font: { family: FONT, size: 22 },
              padding: { top: 0, bottom: 12 },
            },
          },
          y: {
            type: "linear",
            min: p.yMin,
            max: p.yMax,
            afterFit: (s: any) => { s.width = p.L; },
            grid: { display: false, drawTicks: false },
            border: { display: false },
            ticks: {
              stepSize: p.yMajor,
              autoSkip: false,
              padding: 7,
              color: TXT,
              font: { family: FONT, size: 21 },
              callback: (v: any) => (v % p.yMajor === 0 ? String(v) : ""),
            },
            title: {
              display: true,
              text: p.yTitle,
              color: TXT,
              font: { family: FONT, size: 22 },
              padding: { top: p.yTitleX - 13.2, bottom: 0 },
            },
          },
        },
      } as any,
    });
    return () => chart.destroy();
  }, []);
  return (
    <canvas
      ref={ref}
      width={W}
      height={H}
      style={{ position: "absolute", left: 0, top: p.T - PAD_T, width: W, height: H }}
    />
  );
}

export default function App() {
  const o3 = [
    lineDS(C_CRIMSON, O3_CRIMSON),
    lineDS(C_MAGENTA, O3_MAGENTA),
    lineDS(C_ORANGE, O3_ORANGE),
    lineDS(C_GREEN, O3_GREEN),
    lineDS(C_BLUE, O3_BLUE),
    obsBand(stepXY(O3_OBS, O3_OBS_STEP_H), 6, 3.2),
  ];
  const pblh = [
    lineDS(C_CRIMSON, PBLH_CRIMSON),
    lineDS(C_ORANGE, PBLH_ORANGE),
    lineDS(C_GREEN, PBLH_GREEN),
    lineDS(C_BLUE, PBLH_BLUE),
    obsDots(toXY(PBLH_OBS), 2.2),
    obsDots(toXY(PBLH_OBS_EXTRA), 2.2),
  ];
  const wd = [
    lineDS(C_CRIMSON, WD_CRIMSON),
    lineDS(C_MAGENTA, WD_MAGENTA),
    lineDS(C_ORANGE, WD_ORANGE),
    lineDS(C_GREEN, WD_GREEN),
    lineDS(C_BLUE, WD_BLUE),
    obsDots(toXY(WD_OBS), 2.6),
    obsDots(toXY(WD_OBS_EXTRA), 2.6),
  ];
  const sw = [
    { ...lineDS(C_CRIMSON, SW_CRIMSON), borderWidth: 2.4 },
    lineDS(C_ORANGE, SW_ORANGE),
    lineDS(C_GREEN, SW_GREEN),
    lineDS(C_BLUE, SW_BLUE),
    obsBand(toXY(SW_OBS_BAND), 5, 2.8),
    obsBand(toXY(SW_OBS_BAND2), 5, 2.8),
    obsBand(toXY(SW_OBS_BAND3), 5, 2.8),
    obsBand(toXY(SW_OBS_BAND4), 5, 2.8),
    obsDots(toXY(SW_OBS_SCATTER), 2.6),
  ];
  return (
    <div style={{ position: "absolute", left: 0, top: 0, width: 966, height: 2000, overflow: "hidden", background: "#f6f2ea", fontFamily: FONT }}>
      <div style={{ position: "absolute", left: 0, top: 0, width: 20, height: 2000, background: "linear-gradient(to bottom, #f6efe4 0%, #f5e9d8 20%, #f3e4d0 38%, #eee9e4 48%, #d3dbe3 55%, #c4ced8 65%, #d6dde3 75%, #ece5da 85%, #efe6d8 100%)" }} />
      <div style={{ position: "absolute", left: 20, top: 23, width: 960, height: 2000, background: "#ffffff", borderLeft: "2px solid #35589e", borderTop: "2px solid #35589e" }} />
      <Panel L={136} R={934} T={57} B={469} yMin={0} yMax={100} yMajor={20} yMinor={5} yTitle="O3, ppb" yTitleX={68} datasets={o3} />
      <Panel L={139} R={935} T={546} B={963} yMin={0} yMax={3500} yMajor={500} yMinor={100} yTitle="PBLH, m" yTitleX={60} datasets={pblh} />
      <Panel L={136} R={933} T={1044} B={1459} yMin={0} yMax={360} yMajor={100} yMinor={10} yTitle="WD10, deg" yTitleX={70} datasets={wd} />
      <Panel L={135} R={931} T={1533} B={1947} yMin={0} yMax={1500} yMajor={200} yMinor={50} yTitle="SWDOWN, W m-2" yTitleX={55} datasets={sw} />
    </div>
  );
}
